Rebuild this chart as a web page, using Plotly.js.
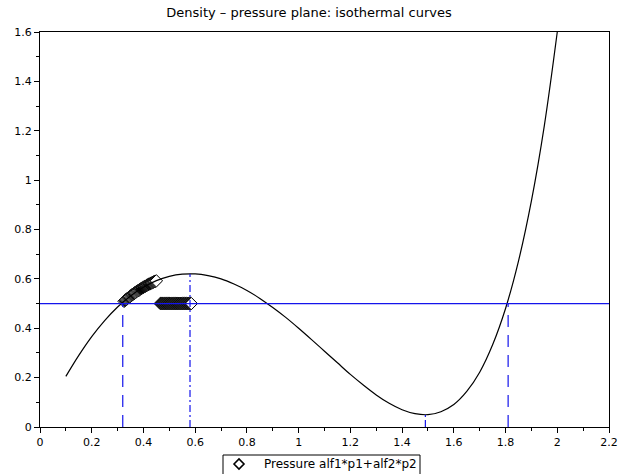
<!DOCTYPE html>
<html><head><meta charset="utf-8">
<script src="https://cdn.plot.ly/plotly-3.0.1.min.js"></script>
<style>html,body{margin:0;padding:0;background:#fff}#plot{width:618px;height:474px}</style>
</head><body><div id="plot"></div>
<script>
// Isotherm curve (density, pressure)
const rho = [0.10,0.15,0.20,0.25,0.30,0.35,0.40,0.45,0.50,0.55,0.60,0.65,0.70,0.75,0.80,0.85,0.90,0.95,1.00,1.05,1.10,1.15,1.20,1.25,1.30,1.35,1.40,1.45,1.50,1.55,1.60,1.65,1.70,1.75,1.80,1.85,1.90,1.95,2.00];
const pres = [0.205,0.290,0.366,0.431,0.486,0.531,0.566,0.593,0.610,0.619,0.620,0.613,0.600,0.579,0.553,0.521,0.484,0.444,0.400,0.354,0.307,0.260,0.213,0.170,0.130,0.096,0.070,0.054,0.050,0.062,0.091,0.144,0.222,0.333,0.480,0.672,0.916,1.221,1.600];
// Iterates: along curve
const itX1 = [0.3250,0.3275,0.3300,0.3325,0.3350,0.3375,0.3400,0.3425,0.3450,0.3475,0.3500,0.3525,0.3550,0.3575,0.3600,0.3625,0.3650,0.3675,0.3700,0.3725,0.3750,0.3775,0.3800,0.3825,0.3850,0.3875,0.3900,0.3925,0.3950,0.3975,0.4000,0.4025,0.4050,0.4075,0.4100,0.4125,0.4150,0.4175,0.4200,0.4225,0.4250,0.4275,0.4300,0.4325,0.4350,0.4375,0.4400,0.4425,0.4450,0.4475,0.4500];
const itY1 = [0.509,0.5115,0.514,0.516,0.518,0.520,0.522,0.524,0.526,0.5285,0.531,0.533,0.535,0.5365,0.538,0.540,0.542,0.544,0.546,0.548,0.550,0.5515,0.553,0.5545,0.556,0.558,0.560,0.5615,0.563,0.5645,0.566,0.5675,0.569,0.5705,0.572,0.5735,0.575,0.5765,0.578,0.579,0.580,0.5815,0.583,0.584,0.585,0.5865,0.588,0.589,0.590,0.591,0.592];
// Iterates: along the pressure level
const itX2 = [0.4650,0.4675,0.4700,0.4725,0.4750,0.4775,0.4800,0.4825,0.4850,0.4875,0.4900,0.4925,0.4950,0.4975,0.5000,0.5025,0.5050,0.5075,0.5100,0.5125,0.5150,0.5175,0.5200,0.5225,0.5250,0.5275,0.5300,0.5325,0.5350,0.5375,0.5400,0.5425,0.5450,0.5475,0.5500,0.5525,0.5550,0.5575,0.5600,0.5625,0.5650,0.5675,0.5700,0.5725,0.5750,0.5775,0.5800,0.5825,0.5850];
const itY2 = [0.5,0.5,0.5,0.5,0.5,0.5,0.5,0.5,0.5,0.5,0.5,0.5,0.5,0.5,0.5,0.5,0.5,0.5,0.5,0.5,0.5,0.5,0.5,0.5,0.5,0.5,0.5,0.5,0.5,0.5,0.5,0.5,0.5,0.5,0.5,0.5,0.5,0.5,0.5,0.5,0.5,0.5,0.5,0.5,0.5,0.5,0.5,0.5,0.5];
// Reference level and special densities
const pLevel = 0.5;
const levelX = [0, 2.2];
const rootsX = [0.32, 1.81];
const extremaX = [0.58, 1.49];
const extremaY = [0.62, 0.05];
const legendName = "Pressure alf1*p1+alf2*p2";
const titleText = "Density – pressure plane: isothermal curves";

const blue = "rgb(20,20,235)";
const mk = {symbol: "diamond", size: 9.5, color: "white", line: {color: "black", width: 1}};
const traces = [
  {x: itX1, y: itY1, mode: "markers", marker: mk, showlegend: false},
  {x: itX2, y: itY2, mode: "markers", name: legendName, marker: mk, showlegend: false},
  {x: rho, y: pres, mode: "lines", line: {color: "black", width: 1.2, shape: "spline"}, showlegend: false},
  {x: levelX, y: [pLevel, pLevel], mode: "lines", line: {color: blue, width: 1.2}, showlegend: false},
  {x: [rootsX[0], rootsX[0]], y: [0, pLevel], mode: "lines", line: {color: blue, width: 1.2, dash: "12px,8px"}, showlegend: false},
  {x: [rootsX[1], rootsX[1]], y: [0, pLevel], mode: "lines", line: {color: blue, width: 1.2, dash: "12px,8px"}, showlegend: false},
  {x: [extremaX[0], extremaX[0]], y: [0, extremaY[0]], mode: "lines", line: {color: blue, width: 1.2, dash: "7px,3px,2px,3px"}, showlegend: false},
  {x: [extremaX[1], extremaX[1]], y: [0, extremaY[1]], mode: "lines", line: {color: blue, width: 1.2, dash: "7px,3px,2px,3px"}, showlegend: false}
];
const ff = "DejaVu Sans, sans-serif";
const axisBase = {showgrid: false, zeroline: false, showline: true, mirror: true, linecolor: "black", linewidth: 1,
  ticks: "outside", ticklen: 5, tickcolor: "black", tickwidth: 1, dtick: 0.2, tick0: 0,
  minor: {ticks: "outside", ticklen: 3, dtick: 0.1, tickcolor: "black", showgrid: false},
  tickfont: {family: ff, size: 11, color: "black"}};
// legend box geometry in paper units (plot area 569 x 395 px)
const px = v => (v - 40) / 569, py = v => (427 - v) / 395;
const dcx = 239, dcy = 464, dh = 5;
const layout = {
  width: 618, height: 474,
  margin: {l: 40, r: 9, t: 32, b: 47},
  paper_bgcolor: "white", plot_bgcolor: "white",
  font: {family: ff, size: 11, color: "black"},
  title: {text: titleText, x: 0.5, xanchor: "center", y: 0.973, yanchor: "middle", font: {family: ff, size: 13, color: "black"}},
  xaxis: Object.assign({}, axisBase, {range: [0, 2.2]}),
  yaxis: Object.assign({}, axisBase, {range: [0, 1.6]}),
  showlegend: false,
  shapes: [
    {type: "rect", xref: "paper", yref: "paper", x0: px(223), x1: px(420), y0: py(485), y1: py(455), line: {color: "black", width: 1}, fillcolor: "white", layer: "above"},
    {type: "path", xref: "paper", yref: "paper", path: `M ${px(dcx-dh)} ${py(dcy)} L ${px(dcx)} ${py(dcy-dh)} L ${px(dcx+dh)} ${py(dcy)} L ${px(dcx)} ${py(dcy+dh)} Z`, line: {color: "black", width: 1.6}, fillcolor: "white", layer: "above"}
  ],
  annotations: [
    {text: legendName, xref: "paper", yref: "paper", x: px(262), xanchor: "left", y: py(464), yanchor: "middle", showarrow: false, font: {family: ff, size: 12, color: "black"}}
  ]
};
Plotly.newPlot("plot", traces, layout, {staticPlot: true, displayModeBar: false});
</script></body></html>
